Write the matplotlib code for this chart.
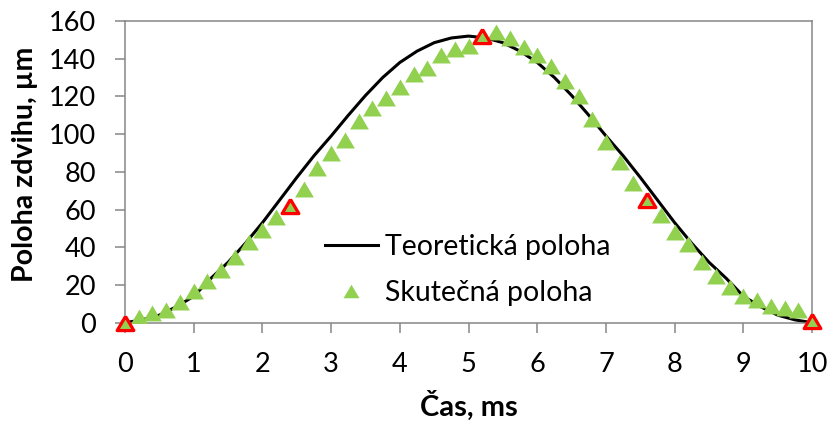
import matplotlib
matplotlib.use('Agg')
import matplotlib.pyplot as plt

plt.rcParams['font.family'] = ['Lato', 'DejaVu Sans']

# measured positions (every 0.2 ms)
t_meas = [0.0, 0.2, 0.4, 0.6, 0.8, 1.0, 1.2, 1.4, 1.6, 1.8, 2.0, 2.2, 2.4, 2.6, 2.8,
          3.0, 3.2, 3.4, 3.6, 3.8, 4.0, 4.2, 4.4, 4.6, 4.8, 5.0, 5.2, 5.4, 5.6, 5.8,
          6.0, 6.2, 6.4, 6.6, 6.8, 7.0, 7.2, 7.4, 7.6, 7.8, 8.0, 8.2, 8.4, 8.6, 8.8,
          9.0, 9.2, 9.4, 9.6, 9.8, 10.0]
y_meas = [0, 3, 5, 7, 11, 17, 22, 28, 35, 43, 49, 56, 62, 71, 82,
          90, 97, 107, 114, 119, 125, 132, 135, 142, 145, 147, 152, 154, 151, 146,
          142, 136, 128, 120, 108, 96, 85, 74, 65, 57, 48, 42, 32, 25, 19,
          14, 12, 9, 8, 7, 1]

# highlighted points (red outline)
t_mark = [0.0, 2.4, 5.2, 7.6, 10.0]
y_mark = [0, 62, 152, 65, 1]

# theoretical profile
t_theo = [0.0, 0.25, 0.5, 0.75, 1.0, 1.25, 1.5, 1.75, 2.0, 2.25, 2.5, 2.75, 3.0, 3.25,
          3.5, 3.75, 4.0, 4.25, 4.5, 4.75, 5.0, 5.25, 5.5, 5.75, 6.0, 6.25, 6.5, 6.75,
          7.0, 7.25, 7.5, 7.75, 8.0, 8.25, 8.5, 8.75, 9.0, 9.25, 9.5, 9.75, 10.0]
y_theo = [0, 1.5, 4, 8.5, 14, 23.5, 32, 42, 53, 65, 77, 88.5, 99, 110,
          120.5, 130, 138, 144, 148.5, 151, 152, 151, 148.5, 144, 138, 130, 120.5, 110,
          99, 88.5, 77, 65, 53, 42, 32, 23.5, 14, 8.5, 4, 1.5, 0]

green = '#92D050'
grey = '#868686'
# excel-like triangle, a bit wider than tall
tri = [(0, 0.85), (-1, -0.85), (1, -0.85), (0, 0.85)]

fig = plt.figure(figsize=(8.33, 4.25), dpi=100)
ax = fig.add_axes([0.150, 0.2407, 0.825, 0.7099])

ax.plot(t_theo, y_theo, color='black', linewidth=2.2, label='Teoretická poloha', zorder=2)
ax.plot(t_meas, y_meas, linestyle='none', marker=tri, markersize=13.5,
        color=green, markeredgewidth=0, label='Skutečná poloha', zorder=3)
ax.plot(t_mark, y_mark, linestyle='none', marker=tri, markersize=12,
        markerfacecolor=green, markeredgecolor='red', markeredgewidth=2.3, zorder=4,
        clip_on=False)

ax.set_xlim(0, 10)
ax.set_ylim(0, 160)
ax.set_xticks(range(0, 11))
ax.set_yticks(range(0, 161, 20))

for s in ax.spines.values():
    s.set_color(grey)
    s.set_linewidth(1.1)
ax.tick_params(axis='both', colors=grey, labelcolor='black', labelsize=19.5,
               direction='out', length=7, width=1.1)
ax.tick_params(axis='x', pad=14)
ax.tick_params(axis='y', pad=14)

ax.set_xlabel('Čas, ms', fontsize=21, fontweight='bold', labelpad=10)
ax.set_ylabel('Poloha zdvihu, µm', fontsize=20.5, fontweight='bold')
ax.yaxis.set_label_coords(-0.127, 0.526)

ax.legend(loc='upper left', bbox_to_anchor=(0.291, 0.295), frameon=False,
          fontsize=20.5, handlelength=1.85, handletextpad=0.25, labelspacing=0.72,
          borderpad=0, borderaxespad=0, markerscale=0.85, numpoints=1)

fig.savefig('out.png', dpi=100)
